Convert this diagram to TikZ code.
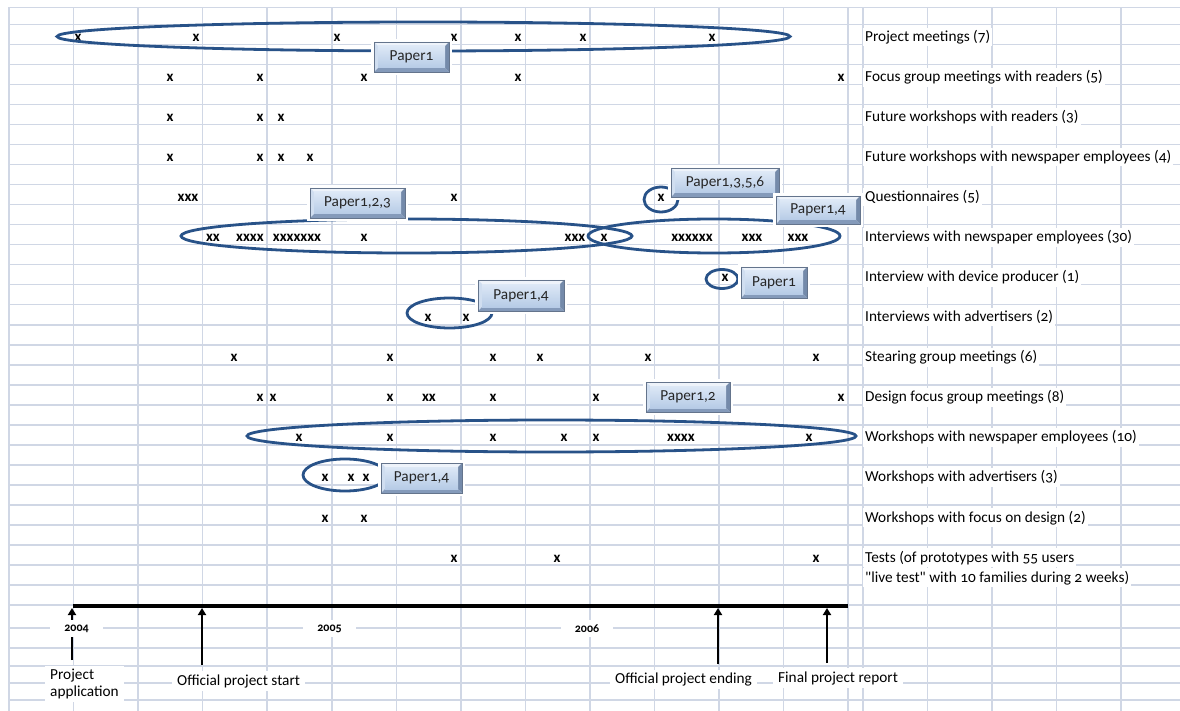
\documentclass[tikz,border=0pt]{standalone}
\usepackage{fontspec}
\setmainfont{Carlito}[Numbers=OldStyle, Ligatures=TeXOff]
\usetikzlibrary{arrows.meta,calc}

\definecolor{gridc}{RGB}{208,215,229}
\definecolor{ringc}{RGB}{40,82,136}
\definecolor{pbtop}{RGB}{221,232,246}
\definecolor{pbbot}{RGB}{182,203,230}
\definecolor{pbedge}{RGB}{100,116,140}
\definecolor{pbhi}{RGB}{238,243,250}
\definecolor{pbside}{RGB}{208,222,240}
\definecolor{pblow}{RGB}{132,154,186}
\definecolor{pbrgt}{RGB}{116,138,170}

% text baseline inside sheet row #1 (rows are 20.03 units high)
\newcommand\rb[1]{(24.3+20.03*(#1+1)-3)}

% bevelled face of the "Paper" boxes
\newcommand\pbbevel{%
  \fill[pbhi] let \p1=(path picture bounding box.south west),
                  \p2=(path picture bounding box.north east) in
    (\x1,\y2) -- (\x2,\y2) -- (\x2-4pt,\y2-4pt) -- (\x1+4pt,\y2-4pt) -- cycle;
  \fill[pbside] let \p1=(path picture bounding box.south west),
                    \p2=(path picture bounding box.north east) in
    (\x1,\y1) -- (\x1,\y2) -- (\x1+4pt,\y2-4pt) -- (\x1+4pt,\y1+4pt) -- cycle;
  \fill[pblow] let \p1=(path picture bounding box.south west),
                   \p2=(path picture bounding box.north east) in
    (\x1,\y1) -- (\x2,\y1) -- (\x2-4pt,\y1+4pt) -- (\x1+4pt,\y1+4pt) -- cycle;
  \fill[pbrgt] let \p1=(path picture bounding box.south west),
                   \p2=(path picture bounding box.north east) in
    (\x2,\y1) -- (\x2,\y2) -- (\x2-4pt,\y2-4pt) -- (\x2-4pt,\y1+4pt) -- cycle;
  \shade[top color=pbtop,bottom color=pbbot]
    let \p1=(path picture bounding box.south west),
        \p2=(path picture bounding box.north east) in
    (\x1+4pt,\y1+4pt) rectangle (\x2-4pt,\y2-4pt);
}

\newcommand\xm[4]{\node[xmark] (#1) at (#2,{\rb{#3}}) {#4};}
\newcommand\rowlab[3]{\node[rowlabel] (#1) at (863,{\rb{#2}}) {#3};}

\tikzset{
  gridline/.style={gridc, line width=1.5pt},
  ring/.style={ringc, line width=2.8pt},
  xmark/.style={anchor=base, inner sep=0pt, font=\bfseries\fontsize{15}{17}\selectfont},
  rowlabel/.style={anchor=base west, fill=white, inner xsep=2pt, inner ysep=2.5pt,
    font=\fontsize{15.3}{18}\selectfont},
  paperbox/.style={inner sep=0pt, font=\fontsize{15.3}{18}\selectfont, text=black!85,
    preaction={draw=white, line width=6pt}, draw=pbedge, line width=0.8pt,
    path picture={\pbbevel}},
  yearlabel/.style={fill=white, inner xsep=14pt, inner ysep=5pt,
    font=\bfseries\fontsize{12}{14}\selectfont},
  notelabel/.style={anchor=west, fill=white, inner xsep=5pt, inner ysep=3pt,
    align=left, font=\fontsize{15.3}{17}\selectfont},
  tlarrow/.style={line width=2pt, -{Triangle[width=8pt,length=7pt]}},
}

\begin{document}
\begin{tikzpicture}[x=1pt,y=-1pt]
\useasboundingbox (0,0) rectangle (1180,711);
\fill[white] (0,0) rectangle (1180,711);

% sheet grid
\foreach \gx in {9,73.55,138.1,202.65,267.2,331.75,396.3,460.85,525.4,589.95,
                 654.5,719.05,783.6,848.15,863,927.55,992.1,1056.65,1121.2}
  \draw[gridline] (\gx,7.3) -- (\gx,711);
\foreach \k in {0,...,29}
  \draw[gridline] (9,{24.3+20.03*\k}) -- (1180,{24.3+20.03*\k});
\foreach \gy in {7.3,628,648,666,683,700}
  \draw[gridline] (9,\gy) -- (1180,\gy);

% activity names
\rowlab{l0}{0}{Project meetings (7)}
\rowlab{l2}{2}{Focus group meetings with readers (5)}
\rowlab{l4}{4}{Future workshops with readers (3)}
\rowlab{l6}{6}{Future workshops with newspaper employees (4)}
\rowlab{l8}{8}{Questionnaires (5)}
\rowlab{l10}{10}{Interviews with newspaper employees (30)}
\rowlab{l12}{12}{Interview with device producer (1)}
\rowlab{l14}{14}{Interviews with advertisers (2)}
\rowlab{l16}{16}{Stearing group meetings (6)}
\rowlab{l18}{18}{Design focus group meetings (8)}
\rowlab{l20}{20}{Workshops with newspaper employees (10)}
\rowlab{l22}{22}{Workshops with advertisers (3)}
\rowlab{l24}{24}{Workshops with focus on design (2)}
\rowlab{l26}{26}{Tests (of prototypes with 55 users}
\rowlab{l27}{27}{"live test" with 10 families during 2 weeks)}

% occurrences
\xm{m0a}{78}{0}{x}\xm{m0b}{196}{0}{x}\xm{m0c}{337}{0}{x}\xm{m0d}{454}{0}{x}
\xm{m0e}{518}{0}{x}\xm{m0f}{583}{0}{x}\xm{m0g}{712}{0}{x}
\xm{m2a}{170}{2}{x}\xm{m2b}{260}{2}{x}\xm{m2c}{364}{2}{x}\xm{m2d}{518}{2}{x}\xm{m2e}{841}{2}{x}
\xm{m4a}{170}{4}{x}\xm{m4b}{260}{4}{x}\xm{m4c}{281}{4}{x}
\xm{m6a}{170}{6}{x}\xm{m6b}{260}{6}{x}\xm{m6c}{281}{6}{x}\xm{m6d}{310}{6}{x}
\xm{m8a}{188}{8}{xxx}\xm{m8b}{454}{8}{x}\xm{m8c}{661}{8}{x}
\xm{m10a}{213}{10}{xx}\xm{m10b}{250}{10}{xxxx}\xm{m10c}{297}{10}{xxxxxxx}
\xm{m10d}{364}{10}{x}\xm{m10e}{575}{10}{xxx}\xm{m10f}{604}{10}{x}
\xm{m10g}{692}{10}{xxxxxx}\xm{m10h}{752}{10}{xxx}\xm{m10i}{798}{10}{xxx}
\xm{m12a}{725}{12}{x}
\xm{m14a}{428}{14}{x}\xm{m14b}{466}{14}{x}
\xm{m16a}{234}{16}{x}\xm{m16b}{390}{16}{x}\xm{m16c}{493}{16}{x}\xm{m16d}{540}{16}{x}
\xm{m16e}{648}{16}{x}\xm{m16f}{816}{16}{x}
\xm{m18a}{260}{18}{x}\xm{m18b}{273}{18}{x}\xm{m18c}{390}{18}{x}\xm{m18d}{429}{18}{xx}
\xm{m18e}{493}{18}{x}\xm{m18f}{596}{18}{x}\xm{m18g}{841}{18}{x}
\xm{m20a}{299}{20}{x}\xm{m20b}{390}{20}{x}\xm{m20c}{493}{20}{x}\xm{m20d}{564}{20}{x}
\xm{m20e}{596}{20}{x}\xm{m20f}{681}{20}{xxxx}\xm{m20g}{809}{20}{x}
\xm{m22a}{325}{22}{x}\xm{m22b}{351}{22}{x}\xm{m22c}{366}{22}{x}
\xm{m24a}{325}{24}{x}\xm{m24b}{364}{24}{x}
\xm{m26a}{454}{26}{x}\xm{m26b}{557}{26}{x}\xm{m26c}{816}{26}{x}

% groupings
\draw[ring] (423.5,36.5) ellipse [x radius=366.5pt, y radius=14.5pt];
\draw[ring] (406.5,236) ellipse [x radius=225.5pt, y radius=17pt];
\draw[ring] (714,236) ellipse [x radius=126pt, y radius=17pt];
\draw[ring] (661,199.5) ellipse [x radius=17pt, y radius=12.5pt];
\draw[ring] (722,279) ellipse [x radius=16pt, y radius=9.5pt];
\draw[ring] (449.5,313) ellipse [x radius=42.5pt, y radius=15pt];
\draw[ring] (551.5,436) ellipse [x radius=304.5pt, y radius=16pt];
\draw[ring] (345,475) ellipse [x radius=42pt, y radius=16pt];

% publications
\node[paperbox, minimum width=75pt, minimum height=30pt] (pp1) at (411.5,57) {Paper1};
\node[paperbox, minimum width=95pt, minimum height=30pt] (pp2) at (357.5,203) {Paper1,2,3};
\node[paperbox, minimum width=108pt, minimum height=29pt] (pp3) at (725,182.5) {Paper1,3,5,6};
\node[paperbox, minimum width=84pt, minimum height=28pt] (pp4) at (818,210) {Paper1,4};
\node[paperbox, minimum width=66pt, minimum height=31pt] (pp5) at (774,282.5) {Paper1};
\node[paperbox, minimum width=86pt, minimum height=31pt] (pp6) at (521,295.5) {Paper1,4};
\node[paperbox, minimum width=84pt, minimum height=30pt] (pp7) at (688,397) {Paper1,2};
\node[paperbox, minimum width=81pt, minimum height=30pt] (pp8) at (421.5,478) {Paper1,4};

% time line
\coordinate (tlA) at (73,606);
\coordinate (tlB) at (848,606);
\draw[line width=4pt] (tlA) -- (tlB);

\coordinate (aS1) at (72,660);  \coordinate (aE1) at (72,608);
\coordinate (aS2) at (202,665); \coordinate (aE2) at (202,608);
\coordinate (aS3) at (718,664); \coordinate (aE3) at (718,608);
\coordinate (aS4) at (827,663); \coordinate (aE4) at (827,608);
\draw[tlarrow] (aS1) -- (aE1);
\draw[tlarrow] (aS2) -- (aE2);
\draw[tlarrow] (aS3) -- (aE3);
\draw[tlarrow] (aS4) -- (aE4);

\node[yearlabel] (y2004) at (76.5,628.5) {2004};
\node[yearlabel] (y2005) at (329.5,628.5) {2005};
\node[yearlabel] (y2006) at (587,628.5) {2006};

\node[notelabel] (napp) at (45,684) {Project\\application};
\node[notelabel] (nstart) at (172,681) {Official project start};
\node[notelabel] (nend) at (610,679.5) {Official project ending};
\node[notelabel] (nrep) at (773,678) {Final project report};
\end{tikzpicture}
\end{document}
